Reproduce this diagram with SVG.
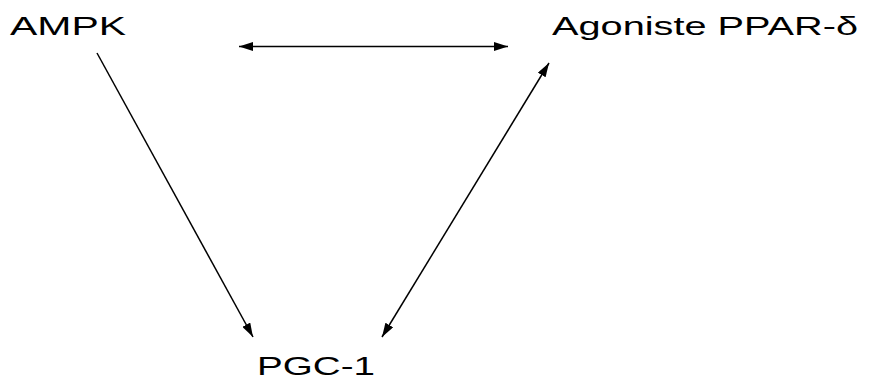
<svg xmlns="http://www.w3.org/2000/svg" width="873" height="378" viewBox="0 0 873 378">
<defs>
<style>
.lbl{font-family:"Liberation Sans",Arial,sans-serif;font-size:25px;fill:#000}
.ln{stroke:#000;stroke-width:1.5;fill:none}
</style>
<marker id="ah" viewBox="0 0 14 9" refX="14" refY="4.5" markerWidth="14" markerHeight="9" markerUnits="userSpaceOnUse" orient="auto-start-reverse">
<path d="M0,0 L14,4.5 L0,9 Z" fill="#000"/>
</marker>
</defs>
<rect width="873" height="378" fill="#fff"/>
<g id="ampk"><text class="lbl" x="10" y="35" textLength="116" lengthAdjust="spacingAndGlyphs">AMPK</text></g>
<g id="ppar"><text class="lbl" x="552" y="35" textLength="306" lengthAdjust="spacingAndGlyphs">Agoniste PPAR-δ</text></g>
<g id="pgc"><text class="lbl" x="257" y="375" textLength="118" lengthAdjust="spacingAndGlyphs">PGC-1</text></g>
<g id="connectors">
<line class="ln" x1="239" y1="46.5" x2="508" y2="46.5" marker-start="url(#ah)" marker-end="url(#ah)"/>
<line class="ln" x1="97" y1="53" x2="253" y2="337" marker-end="url(#ah)"/>
<line class="ln" x1="549" y1="63" x2="382" y2="337" marker-start="url(#ah)" marker-end="url(#ah)"/>
</g>
</svg>
